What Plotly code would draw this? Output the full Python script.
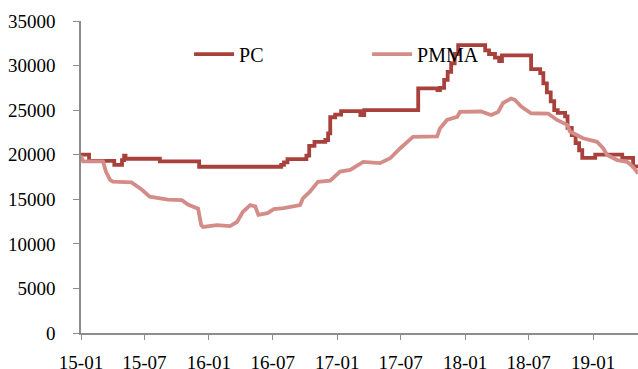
import plotly.graph_objects as go

pc_dates = ["2015-01-01", "2015-01-24", "2015-04-06", "2015-04-28", "2015-05-04", "2015-05-08",
            "2015-08-14", "2015-12-04", "2016-07-25", "2016-08-02", "2016-08-12", "2016-10-05",
            "2016-10-13", "2016-10-28", "2016-11-28", "2016-12-06", "2016-12-12", "2016-12-26",
            "2017-01-12", "2017-03-08", "2017-03-19", "2017-08-20", "2017-10-14", "2017-10-21",
            "2017-11-02", "2017-11-12", "2017-11-22", "2017-12-02", "2017-12-12", "2018-02-27",
            "2018-03-10", "2018-03-27", "2018-04-08", "2018-04-16", "2018-07-08", "2018-08-03",
            "2018-08-12", "2018-08-22", "2018-09-02", "2018-09-12", "2018-09-22", "2018-10-13",
            "2018-10-20", "2018-11-01", "2018-11-12", "2018-11-22", "2018-12-01", "2019-01-07",
            "2019-03-25", "2019-04-25", "2019-05-09"]
pc_values = [20000, 19300, 18850, 19400, 19900, 19550,
             19250, 18650, 18850, 19150, 19500, 19900,
             21000, 21450, 21650, 22400, 24200, 24500,
             24900, 24450, 25000, 27450, 27250, 27500,
             28400, 29300, 30250, 31300, 32300, 31700,
             31300, 30900, 30500, 31150, 29600, 29150,
             28000, 27000, 26000, 25000, 24700, 24300,
             23000, 22200, 21300, 20500, 19650, 20000,
             19650, 18700, 18700]

pmma_dates = ["2015-01-01", "2015-01-07", "2015-03-05", "2015-03-13", "2015-03-25", "2015-04-02",
              "2015-05-25", "2015-06-23", "2015-07-16", "2015-09-06", "2015-10-16", "2015-11-02",
              "2015-12-01", "2015-12-10", "2015-12-15", "2016-01-24", "2016-03-01", "2016-03-21",
              "2016-04-07", "2016-04-28", "2016-05-12", "2016-05-21", "2016-06-16", "2016-07-04",
              "2016-08-01", "2016-09-17", "2016-09-25", "2016-10-15", "2016-11-07", "2016-12-12",
              "2017-01-09", "2017-02-07", "2017-03-16", "2017-05-03", "2017-06-01", "2017-06-29",
              "2017-08-05", "2017-10-13", "2017-10-21", "2017-11-10", "2017-12-09", "2017-12-17",
              "2018-02-15", "2018-03-16", "2018-04-05", "2018-04-19", "2018-05-12", "2018-05-23",
              "2018-06-10", "2018-07-08", "2018-08-26", "2018-09-20", "2018-10-19", "2018-10-27",
              "2018-12-03", "2019-01-12", "2019-01-30", "2019-02-10", "2019-03-11", "2019-04-08",
              "2019-04-25", "2019-05-09"]
pmma_values = [19900, 19250, 19250, 18100, 17170, 16980,
               16900, 16100, 15300, 14950, 14900, 14400,
               13950, 12100, 11900, 12100, 12000, 12450,
               13600, 14350, 14200, 13250, 13450, 13900,
               14000, 14350, 15100, 15850, 16950, 17100,
               18100, 18300, 19200, 19050, 19600, 20700,
               22000, 22050, 22950, 23900, 24250, 24800,
               24850, 24450, 24800, 25800, 26300, 26150,
               25400, 24650, 24600, 23900, 23350, 22600,
               21850, 21450, 20700, 19970, 19400, 19200,
               18650, 17900]

y_ticks = [0, 5000, 10000, 15000, 20000, 25000, 30000, 35000]

FONT = "Liberation Serif, Times New Roman, serif"

fig = go.Figure()
fig.add_trace(go.Scatter(x=pc_dates, y=pc_values, name="PC", mode="lines",
                         line=dict(color="#A8403C", width=3.8, shape="hv")))
fig.add_trace(go.Scatter(x=pmma_dates, y=pmma_values, name="PMMA", mode="lines",
                         line=dict(color="#D48C88", width=3.8)))

fig.update_layout(
    width=638, height=369,
    margin=dict(l=81, r=0, t=21, b=36, autoexpand=False),
    paper_bgcolor="white", plot_bgcolor="white",
    font=dict(family=FONT, size=19, color="black"),
    showlegend=True,
    legend=dict(orientation="h", x=0.194, y=0.894, xanchor="left", yanchor="middle",
                bgcolor="rgba(0,0,0,0)", font=dict(family=FONT, size=20),
                itemwidth=40, entrywidth=123, entrywidthmode="pixels"),
)
fig.update_xaxes(
    type="date", range=["2015-01-01", "2019-05-09"],
    tick0="2015-01-01", dtick="M6", tickformat="%y-%m",
    showgrid=False, zeroline=False, automargin=False,
    showline=True, linecolor="#8C8C8C", linewidth=1.5,
    ticks="outside", ticklen=5, tickcolor="#8C8C8C", tickwidth=1,
    ticklabelstandoff=6,
)
fig.update_yaxes(
    range=[0, 35000], tickvals=y_ticks, ticktext=[str(v) for v in y_ticks],
    showgrid=False, zeroline=False, automargin=False,
    showline=True, linecolor="#8C8C8C", linewidth=1.5,
    ticks="outside", ticklen=6, tickcolor="#8C8C8C", tickwidth=1,
    ticklabelstandoff=14,
)

fig.write_html("out.html", config={"displayModeBar": False},
               post_script="document.body.style.margin='0';document.body.style.padding='0';")
